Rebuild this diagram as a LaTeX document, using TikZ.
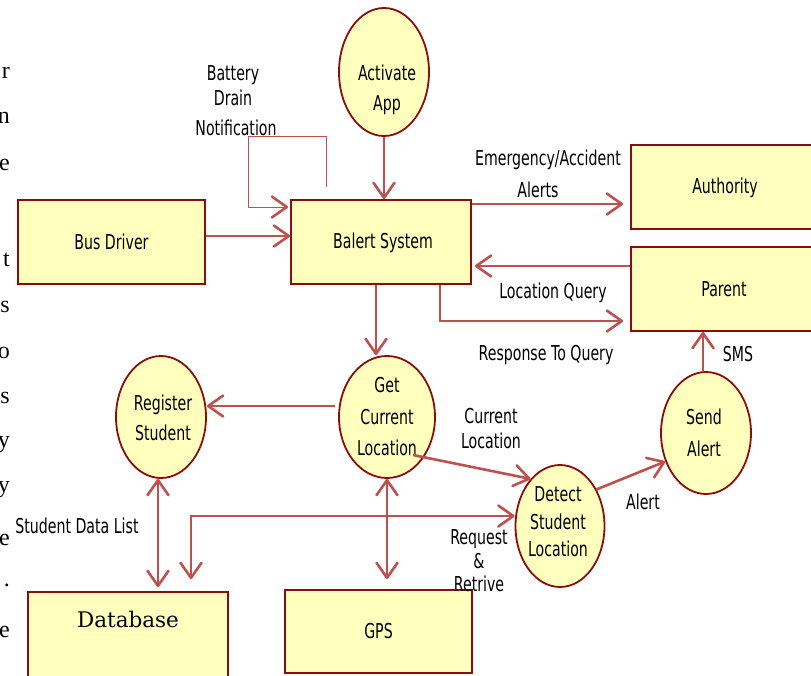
\documentclass[tikz,border=0pt]{standalone}
\usepackage{fontspec}
\setmainfont{DejaVu Sans}[FakeStretch=0.69]
\newfontfamily\dbfont{DejaVu Serif}
\newfontfamily\bodyserif{Liberation Serif}
\usetikzlibrary{arrows.meta,shapes.geometric,calc}
\definecolor{lnc}{RGB}{192,80,77}
\definecolor{bdr}{RGB}{140,12,12}
\definecolor{fil}{RGB}{255,255,190}
\tikzset{barb/.tip={Straight Barb[length=15pt,width=21pt,round]}}
\begin{document}
\begin{tikzpicture}[x=1pt,y=-1pt,
  box/.style={draw=bdr, fill=fil, line width=1.8pt, rectangle, inner sep=0pt, font=\fontsize{20.5}{24}\selectfont},
  proc/.style={draw=bdr, fill=fil, line width=1.8pt, ellipse, inner sep=0pt},
  lbl/.style={font=\fontsize{20.5}{25}\selectfont, align=center, inner sep=0pt},
  body/.style={font=\bodyserif\fontsize{24}{28}\selectfont, inner sep=0pt, anchor=east},
  flow/.style={draw=lnc, line width=2.6pt, -barb},
  flowtwo/.style={draw=lnc, line width=2.6pt, barb-barb},
  thinflow/.style={draw=lnc, line width=1pt, -{barb[line width=2.6pt]}}]
\useasboundingbox (0,0) rectangle (811,675);
\clip (0,0) rectangle (811,675);

% stray body text at left edge
\node[body] (b1) at (10,73) {r};
\node[body] (b2) at (10,118) {n};
\node[body] (b3) at (10,165) {e};
\node[body] (b4) at (10,260) {t};
\node[body] (b5) at (10,307) {s};
\node[body] (b6) at (10,353) {o};
\node[body] (b7) at (10,398) {s};
\node[body] (b8) at (10,445) {y};
\node[body] (b9) at (10,490) {y};
\node[body] (b10) at (10,540) {e};
\node[body] (b11) at (10,585) {.};
\node[body] (b12) at (10,632) {e};

% boxes
\node[box, minimum width=187pt, minimum height=84pt] (bus) at (111.5,242) {Bus Driver};
\node[box, minimum width=180pt, minimum height=84pt] (bal) at (381,242) {};
\node[lbl] (balT) at (383,243) {Balert System};
\node[box, minimum width=186pt, minimum height=84pt] (auth) at (724,187) {};
\node[lbl] (authT) at (725,188) {Authority};
\node[box, minimum width=186pt, minimum height=84pt] (par) at (724,289) {Parent};
\node[box, minimum width=200pt, minimum height=100pt] (db) at (128,642) {};
\node[font=\dbfont\fontsize{21.5}{26}\selectfont, inner sep=0pt] (dbl) at (128,619) {Database};
\node[box, minimum width=187pt, minimum height=83pt] (gps) at (378.5,631.5) {GPS};

% processes
\node[proc, minimum width=90pt, minimum height=128pt] (act) at (384,72) {};
\node[proc, minimum width=96pt, minimum height=122pt] (get) at (387,417) {};
\node[proc, minimum width=90pt, minimum height=122pt] (reg) at (161,417) {};
\node[proc, minimum width=89pt, minimum height=122pt] (det) at (560,526) {};
\node[proc, minimum width=90pt, minimum height=122pt] (snd) at (706,433) {};

\node[lbl, font=\fontsize{20.5}{30}\selectfont] (actT) at (387,90) {Activate\\App};
\node[lbl, font=\fontsize{20.5}{31.5}\selectfont] (getT) at (387,417) {Get\\Current\\Location};
\node[lbl, font=\fontsize{20.5}{30}\selectfont] (regT) at (163,418) {Register\\Student};
\node[lbl, font=\fontsize{20.5}{27.5}\selectfont] (detT) at (558,522) {Detect\\Student\\Location};
\node[lbl, font=\fontsize{20.5}{32}\selectfont] (sndT) at (704,433) {Send\\Alert};

% labels
\node[lbl] (battT) at (233,86) {Battery\\Drain};
\node[lbl] (notT) at (236,128) {Notification};
\node[lbl] (emT) at (548,160) {Emergency/Accident};
\node[lbl] (alT) at (538,190) {Alerts};
\node[lbl] (lqT) at (553,293) {Location Query};
\node[lbl] (rqT) at (546,355) {Response To Query};
\node[lbl] (smsT) at (738,354) {SMS};
\node[lbl] (clT) at (491,429) {Current\\Location};
\node[lbl] (alertT) at (643,502) {Alert};
\node[lbl] (sdlT) at (77,526) {Student Data List};
\node[lbl, font=\fontsize{20.5}{23.5}\selectfont] (reqT) at (479,561) {Request\\\&\\Retrive};

% connectors
\draw[flow] (act.south) -- (act.south |- bal.north);
\coordinate (c1) at ([yshift=6pt]bus.east);
\draw[flow] (c1) -- (c1 -| bal.west);
\coordinate (c2) at ([xshift=-55pt,yshift=12pt]bal.north);
\coordinate (c3) at ([yshift=35pt]bal.west);
\draw[thinflow, shorten >=2pt] (c2) -- ++(0,-51) -| ($(c3)+(-42,0)$) -- (c3);
\coordinate (c4) at ([yshift=38pt]bal.east);
\draw[flow, shorten >=7pt] (c4) -- (c4 -| auth.west);
\coordinate (c5) at ([yshift=23pt]par.west);
\draw[flow, shorten >=3pt] (c5) -- (c5 -| bal.east);
\coordinate (c6) at ([xshift=59pt]bal.south);
\coordinate (c7) at ([yshift=-32pt]par.west);
\draw[flow, shorten >=7pt] (c6) |- (c7);
\coordinate (c8) at ([xshift=-5pt]bal.south);
\draw[flow] (c8) -- (c8 |- get.north);
\coordinate (c9) at ([yshift=11pt,xshift=-3pt]get.west);
\draw[flow] (c9) -- (c9 -| reg.east);
\coordinate (c10) at ($(get.center)+(26,38)$);
\draw[flow] (c10) -- (det.122);
\coordinate (c11) at ([yshift=10pt]det.west);
\coordinate (c12) at ([xshift=63pt]db.north);
\draw[flowtwo, shorten >=12pt] (c11) -| (c12);
\coordinate (c13) at ([xshift=-3pt]reg.south);
\draw[flowtwo, shorten >=4pt] (c13) -- (c13 |- db.north);
\draw[flowtwo, shorten >=10pt] (get.south) -- (get.south |- gps.north);
\draw[flow] (det.45) -- (snd.215);
\coordinate (c14) at ([xshift=-3pt]snd.north);
\draw[flow] (c14) -- (c14 |- par.south);
\end{tikzpicture}
\end{document}
